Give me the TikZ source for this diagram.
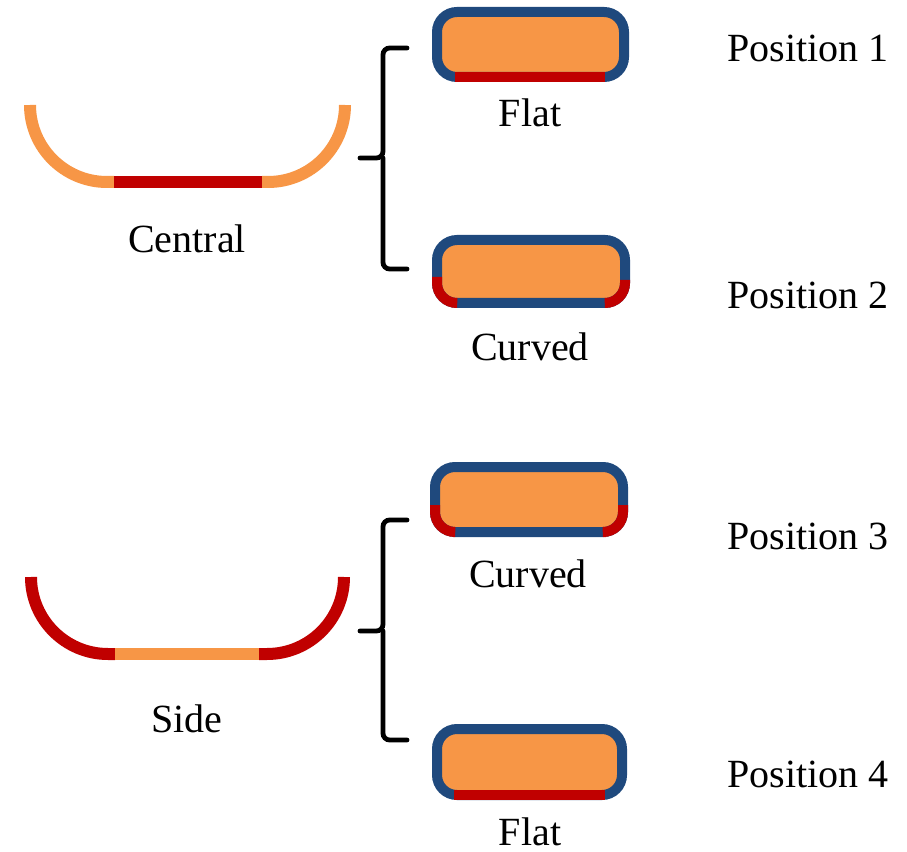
\documentclass[tikz,border=0pt]{standalone}
\usepackage{fontspec}
\setmainfont{Liberation Serif}
\definecolor{orng}{HTML}{F79646}
\definecolor{dred}{HTML}{C00000}
\definecolor{dblue}{HTML}{1F497D}
\begin{document}
\begin{tikzpicture}[x=0.75pt,y=-0.75pt,
  lbl/.style={font=\fontsize{30}{36}\selectfont, inner sep=0pt, anchor=base},
  poslbl/.style={font=\fontsize{30}{36}\selectfont, inner sep=0pt, anchor=base west},
  boxshape/.style={draw=dblue, fill=orng, line width=7.5pt, rounded corners=15pt},
  redpart/.style={draw=dred, line width=7.5pt, line cap=butt},
  ushape/.style={line width=9pt, line cap=butt},
  bracestyle/.style={draw=black, line width=3.6pt, rounded corners=5pt, line cap=round}
]
\useasboundingbox (0,0) rectangle (907,852);

% ---------- Central U ----------
\draw[ushape, orng] (30,105) arc[start angle=180, end angle=90, radius=77] -- (114,182) coordinate (cL);
\draw[ushape, orng] (262,182) -- (268,182) arc[start angle=90, end angle=0, radius=77];
\draw[ushape, dred] (cL) -- (262,182) coordinate (cR);
\node[lbl] (central) at (187,253) {Central};

% ---------- Side U ----------
\draw[ushape, dred] (31,577) arc[start angle=180, end angle=90, radius=77] -- (115,654) coordinate (sL);
\draw[ushape, dred] (259,654) -- (267,654) arc[start angle=90, end angle=0, radius=77];
\draw[ushape, orng] (sL) -- (259,654) coordinate (sR);
\node[lbl] (side) at (187,732) {Side};

% ---------- Braces ----------
\draw[bracestyle] (407,48) -| (383,158) -- (360,158);
\draw[bracestyle] (407,269) -| (383,158);
\draw[bracestyle] (407,520) -| (383,631) -- (360,631);
\draw[bracestyle] (407,740) -| (383,631);

% ---------- Box 1 (Flat) ----------
\draw[boxshape] (437,12) rectangle (624,77);
\draw[redpart] (455,77) -- (605,77);
\node[lbl] (flat1) at (530,127) {Flat};
\node[poslbl] (p1) at (727,62) {Position 1};

% ---------- Box 2 (Curved) ----------
\draw[boxshape] (437,240) rectangle (625,303);
\draw[redpart] (437,277) -- (437,283) arc[start angle=180, end angle=90, radius=20] -- (455,303);
\draw[redpart] (625,280) -- (625,283) arc[start angle=0, end angle=90, radius=20] -- (607,303);
\node[lbl] (curved1) at (530,360) {Curved};
\node[poslbl] (p2) at (727,309) {Position 2};

% ---------- Box 3 (Curved) ----------
\draw[boxshape] (435,467) rectangle (623,532);
\draw[redpart] (435,505) -- (435,512) arc[start angle=180, end angle=90, radius=20] -- (453,532);
\draw[redpart] (623,505) -- (623,512) arc[start angle=0, end angle=90, radius=20] -- (606,532);
\node[lbl] (curved2) at (528,587) {Curved};
\node[poslbl] (p3) at (727,549) {Position 3};

% ---------- Box 4 (Flat) ----------
\draw[boxshape] (437,729) rectangle (622,795);
\draw[redpart] (454,795) -- (605,795);
\node[lbl] (flat2) at (530,845) {Flat};
\node[poslbl] (p4) at (727,787) {Position 4};
\end{tikzpicture}
\end{document}
